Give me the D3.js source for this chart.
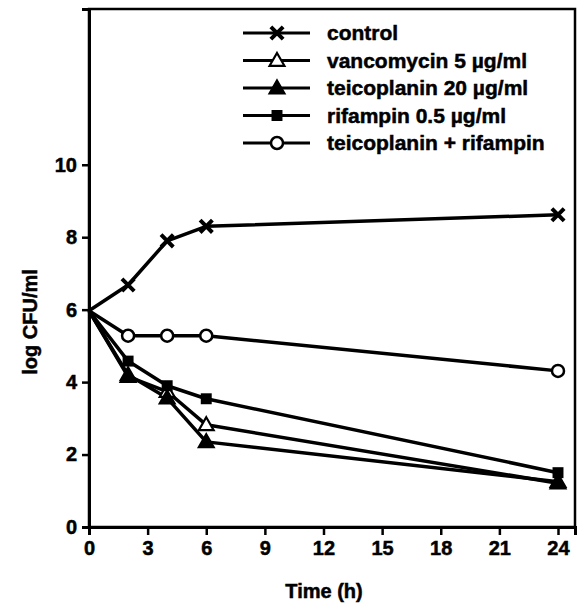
<!DOCTYPE html>
<html>
<head>
<meta charset="utf-8">
<script src="https://d3js.org/d3.v7.min.js"></script>
<style>
  body { margin: 0; background: #fff; }
  text { font-family: "Liberation Sans", Arial, sans-serif; font-weight: bold; fill: #000;
         stroke: #000; stroke-width: 0.5px; }
</style>
</head>
<body>
<div id="chart"></div>
<script>
// sampling times (h)
var times = [0, 2, 4, 6, 24];

// log CFU/ml for each regimen
var control     = [5.97, 6.68, 7.90, 8.30, 8.62];
var vancomycin  = [5.97, 4.15, 3.74, 2.82, 1.21];
var teicoplanin = [5.97, 4.20, 3.56, 2.35, 1.25];
var rifampin    = [5.97, 4.58, 3.90, 3.54, 1.50];
var combination = [5.97, 5.28, 5.28, 5.28, 4.31];

var seriesNames = ["control", "vancomycin 5 \u00b5g/ml", "teicoplanin 20 \u00b5g/ml",
                   "rifampin 0.5 \u00b5g/ml", "teicoplanin + rifampin"];
var seriesMarks = ["cross", "openTri", "fillTri", "square", "circle"];
var seriesValues = [control, vancomycin, teicoplanin, rifampin, combination];

var xTicks = [0, 3, 6, 9, 12, 15, 18, 21, 24];
var yTicks = [0, 2, 4, 6, 8, 10];

var margin = {top: 9, right: 3, bottom: 78, left: 89},
    width = 578 - margin.left - margin.right,
    height = 605 - margin.top - margin.bottom;

var svg = d3.select("#chart").append("svg")
    .attr("width", 578).attr("height", 605)
  .append("g")
    .attr("transform", "translate(" + margin.left + "," + margin.top + ")");

var x = d3.scaleLinear().domain([0, 24.87]).range([0, width]);
var y = d3.scaleLinear().domain([0, 14.3]).range([height, 0]);

// frame
svg.append("rect")
  .attr("width", width).attr("height", height)
  .attr("fill", "none").attr("stroke", "#000").attr("stroke-width", 2.5);

// axes
var xAxis = svg.append("g")
  .attr("transform", "translate(0," + height + ")")
  .call(d3.axisBottom(x).tickValues(xTicks).tickSize(8).tickPadding(6));
var yAxis = svg.append("g")
  .call(d3.axisLeft(y).tickValues(yTicks).tickSize(7).tickPadding(5));

[xAxis, yAxis].forEach(function(a) {
  a.select(".domain").attr("stroke-width", 3);
  a.selectAll(".tick line").attr("stroke-width", 2.5);
  a.selectAll(".tick text").style("font-size", "20px")
    .attr("font-family", null).attr("fill", null);
});

svg.append("text")
  .attr("x", width / 2 - 8).attr("y", height + 71)
  .attr("text-anchor", "middle").style("font-size", "20px")
  .text("Time (h)");

svg.append("text")
  .attr("transform", "translate(-52," + (322 - margin.top) + ") rotate(-90)")
  .attr("text-anchor", "middle").style("font-size", "20px")
  .text("log CFU/ml");

// marker drawing
function drawMark(g, kind, cx, cy) {
  if (kind === "cross") {
    g.append("path")
      .attr("d", d3.symbol().type(d3.symbolX).size(100)())
      .attr("transform", "translate(" + cx + "," + cy + ")")
      .attr("stroke", "#000").attr("stroke-width", 4).attr("fill", "none");
  } else if (kind === "openTri" || kind === "fillTri") {
    g.append("path")
      .attr("d", d3.symbol().type(d3.symbolTriangle).size(95)())
      .attr("transform", "translate(" + cx + "," + (cy + 1) + ")")
      .attr("stroke", "#000").attr("stroke-width", 2.2)
      .attr("fill", kind === "fillTri" ? "#000" : "#fff");
  } else if (kind === "square") {
    g.append("path")
      .attr("d", d3.symbol().type(d3.symbolSquare).size(120)())
      .attr("transform", "translate(" + cx + "," + cy + ")")
      .attr("fill", "#000");
  } else {
    g.append("circle")
      .attr("cx", cx).attr("cy", cy).attr("r", 6)
      .attr("stroke", "#000").attr("stroke-width", 2.5).attr("fill", "#fff");
  }
}

var line = d3.line()
  .x(function(d, i) { return x(times[i]); })
  .y(function(d) { return y(d); });

// lines first, then markers on top
seriesValues.forEach(function(vals) {
  svg.append("path")
    .datum(vals)
    .attr("d", line)
    .attr("fill", "none").attr("stroke", "#000")
    .attr("stroke-width", 3.5).attr("stroke-linejoin", "round");
});
seriesValues.forEach(function(vals, s) {
  var g = svg.append("g");
  vals.forEach(function(v, i) {
    if (times[i] === 0) return;
    drawMark(g, seriesMarks[s], x(times[i]), y(v));
  });
});

// legend
var legend = svg.append("g").attr("transform", "translate(" + (243 - margin.left) + "," + (33 - margin.top) + ")");
seriesNames.forEach(function(name, i) {
  var row = legend.append("g").attr("transform", "translate(0," + (i * 27.5) + ")");
  row.append("line").attr("x1", 0).attr("x2", 67)
    .attr("stroke", "#000").attr("stroke-width", 3);
  drawMark(row, seriesMarks[i], 34, 0);
  row.append("text").attr("x", 84).attr("dy", "0.35em")
    .style("font-size", "21px").text(name);
});
</script>
</body>
</html>
